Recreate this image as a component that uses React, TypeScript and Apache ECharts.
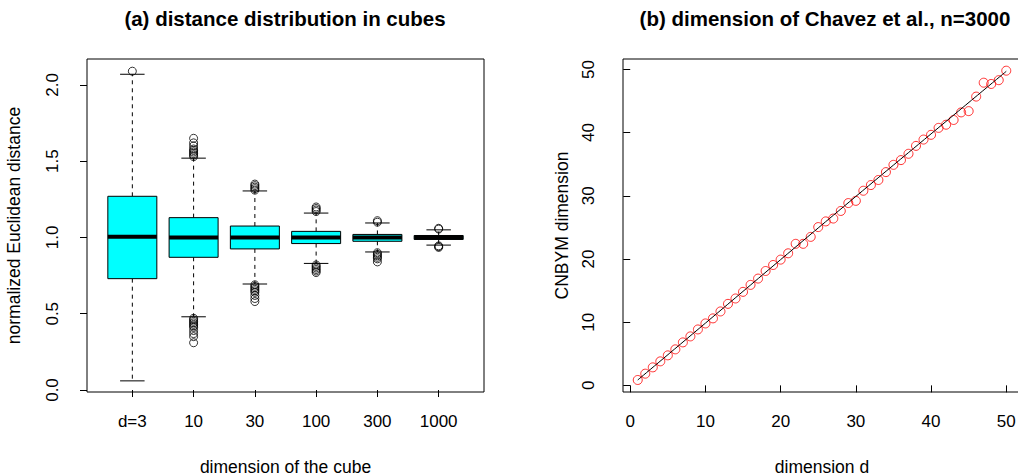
import React, { useEffect, useRef } from "react";
import * as echarts from "echarts";

// ---- panel (a): distance distribution in cubes ----
const cubeLabels = ["d=3", "10", "30", "100", "300", "1000"];
const cubePositions = [1, 2, 3, 4, 5, 6];
const whiskerLow = [0.06, 0.48, 0.695, 0.83, 0.905, 0.95];
const quart1 = [0.73, 0.87, 0.925, 0.96, 0.975, 0.987];
const medians = [1.005, 1.0, 1.0, 1.0, 1.0, 1.0];
const quart3 = [1.27, 1.13, 1.075, 1.04, 1.02, 1.013];
const whiskerHigh = [2.07, 1.52, 1.305, 1.16, 1.095, 1.05];
const outliers = [
  [2.09],
  [1.53, 1.54, 1.55, 1.56, 1.57, 1.58, 1.6, 1.62, 1.65, 0.47, 0.46, 0.45, 0.44, 0.43, 0.42, 0.41, 0.39, 0.37, 0.35, 0.31],
  [1.31, 1.32, 1.33, 1.34, 1.35, 0.69, 0.68, 0.67, 0.66, 0.65, 0.64, 0.62, 0.6, 0.58],
  [1.17, 1.18, 1.19, 1.2, 0.82, 0.81, 0.8, 0.79, 0.78, 0.77],
  [1.1, 1.11, 0.9, 0.89, 0.88, 0.87, 0.86, 0.84],
  [1.055, 1.06, 0.945, 0.94, 0.935],
];
const yTicksA = [0, 0.5, 1, 1.5, 2];

// ---- panel (b): dimension of Chavez et al. ----
const dims = [
  1, 2, 3, 4, 5, 6, 7, 8, 9, 10, 11, 12, 13, 14, 15, 16, 17, 18, 19, 20, 21, 22, 23, 24, 25,
  26, 27, 28, 29, 30, 31, 32, 33, 34, 35, 36, 37, 38, 39, 40, 41, 42, 43, 44, 45, 46, 47, 48, 49, 50,
];
const cnbymDim = [
  0.85, 1.85, 2.85, 3.8, 4.75, 5.7, 6.8, 7.75, 8.85, 9.8, 10.6, 11.7, 12.9, 13.75, 14.8, 15.9, 16.9,
  18.1, 19.05, 19.9, 20.9, 22.4, 22.4, 23.5, 25.05, 25.95, 26.4, 27.6, 28.85, 29.2, 30.8, 31.7, 32.5,
  33.75, 34.9, 35.65, 36.65, 37.9, 38.9, 39.65, 40.75, 41.25, 42.0, 43.2, 43.4, 45.7, 47.9, 47.7, 48.3, 49.8,
];
const fitD = [1, 10, 20, 30, 40, 50];
const fitY = [0.85, 9.85, 19.9, 29.9, 39.8, 49.7];
const ticksB = [0, 10, 20, 30, 40, 50];

const FONT = "Liberation Sans, Arial, Helvetica, sans-serif";

export default function App() {
  const ref = useRef<HTMLDivElement>(null);
  useEffect(() => {
    document.body.style.margin = "0";
    const chart = echarts.init(ref.current!, null, { renderer: "svg" });

    const boxData = cubePositions.map((p, i) => [p, whiskerLow[i], quart1[i], medians[i], quart3[i], whiskerHigh[i]]);
    const outData: number[][] = [];
    outliers.forEach((arr, i) => arr.forEach((v) => outData.push([cubePositions[i], v])));

    const axisCommon = {
      axisLine: { show: false },
      splitLine: { show: false },
      axisTick: { show: true, length: 7, lineStyle: { color: "#000", width: 1 } },
    };
    const labelStyle = { color: "#000", fontSize: 17, fontFamily: FONT };
    const nameStyle = { color: "#000", fontSize: 17.5, fontFamily: FONT };

    const option: any = {
      animation: false,
      backgroundColor: "#fff",
      textStyle: { fontFamily: FONT },
      grid: [
        { left: 87, top: 59, width: 397, height: 333, show: true, borderColor: "#000", borderWidth: 1, backgroundColor: "transparent", containLabel: false, outerBoundsMode: "none" },
        { left: 623, top: 59, width: 398, height: 333, show: true, borderColor: "#000", borderWidth: 1, backgroundColor: "transparent", containLabel: false, outerBoundsMode: "none" },
      ],
      xAxis: [
        {
          type: "value", gridIndex: 0, min: 0.26, max: 6.74, ...axisCommon,
          axisTick: { ...axisCommon.axisTick, customValues: cubePositions },
          axisLabel: { ...labelStyle, margin: 21, customValues: cubePositions, formatter: (v: number) => cubeLabels[Math.round(v) - 1] },
          name: "dimension of the cube", nameLocation: "middle", nameGap: 66, nameTextStyle: nameStyle,
        },
        {
          type: "value", gridIndex: 1, min: -0.96, max: 51.96, ...axisCommon,
          axisTick: { ...axisCommon.axisTick, customValues: ticksB },
          axisLabel: { ...labelStyle, margin: 21, customValues: ticksB, formatter: (v: number) => String(v) },
          name: "dimension d", nameLocation: "middle", nameGap: 66, nameTextStyle: nameStyle,
        },
      ],
      yAxis: [
        {
          type: "value", gridIndex: 0, min: -0.013, max: 2.17, ...axisCommon,
          axisTick: { ...axisCommon.axisTick, customValues: yTicksA },
          axisLabel: { ...labelStyle, margin: 26, rotate: 90, customValues: yTicksA, formatter: (v: number) => v.toFixed(1) },
          name: "normalized Euclidean distance", nameLocation: "middle", nameGap: 64, nameTextStyle: nameStyle,
        },
        {
          type: "value", gridIndex: 1, min: -1.05, max: 51.65, ...axisCommon,
          axisTick: { ...axisCommon.axisTick, customValues: ticksB },
          axisLabel: { ...labelStyle, margin: 26, rotate: 90, customValues: ticksB, formatter: (v: number) => String(v) },
          name: "CNBYM dimension", nameLocation: "middle", nameGap: 52, nameTextStyle: nameStyle,
        },
      ],
      graphic: [
        { type: "text", x: 285, y: 18, style: { text: "(a) distance distribution in cubes", fontSize: 20.5, fontWeight: "bold", fontFamily: FONT, fill: "#000", textAlign: "center", textVerticalAlign: "middle" } },
        { type: "text", x: 825, y: 18, style: { text: "(b) dimension of Chavez et al., n=3000", fontSize: 20.5, fontWeight: "bold", fontFamily: FONT, fill: "#000", textAlign: "center", textVerticalAlign: "middle" } },
      ],
      series: [
        {
          type: "custom", xAxisIndex: 0, yAxisIndex: 0, data: boxData, encode: { x: 0, y: [1, 2, 3, 4, 5] },
          renderItem: (params: any, api: any) => {
            const x = api.value(0);
            const lo = api.coord([x, api.value(1)]);
            const b1 = api.coord([x, api.value(2)]);
            const md = api.coord([x, api.value(3)]);
            const b3 = api.coord([x, api.value(4)]);
            const hi = api.coord([x, api.value(5)]);
            const half = api.size([0.4, 0])[0];
            const cap = half / 2;
            const cx = md[0];
            const dash = { stroke: "#000", lineWidth: 1, lineDash: [4, 4] };
            const solid = { stroke: "#000", lineWidth: 1 };
            return {
              type: "group",
              children: [
                { type: "line", shape: { x1: cx, y1: b3[1], x2: cx, y2: hi[1] }, style: dash },
                { type: "line", shape: { x1: cx, y1: b1[1], x2: cx, y2: lo[1] }, style: dash },
                { type: "line", shape: { x1: cx - cap, y1: hi[1], x2: cx + cap, y2: hi[1] }, style: solid },
                { type: "line", shape: { x1: cx - cap, y1: lo[1], x2: cx + cap, y2: lo[1] }, style: solid },
                { type: "rect", shape: { x: cx - half, y: b3[1], width: 2 * half, height: b1[1] - b3[1] }, style: { fill: "#00FFFF", stroke: "#000", lineWidth: 1 } },
                { type: "line", shape: { x1: cx - half, y1: md[1], x2: cx + half, y2: md[1] }, style: { stroke: "#000", lineWidth: 4 } },
              ],
            };
          },
        },
        {
          type: "scatter", xAxisIndex: 0, yAxisIndex: 0, data: outData, symbol: "circle", symbolSize: 8,
          itemStyle: { color: "transparent", borderColor: "#000", borderWidth: 1 },
        },
        {
          type: "line", xAxisIndex: 1, yAxisIndex: 1, data: fitD.map((d, i) => [d, fitY[i]]), showSymbol: false, symbol: "none",
          lineStyle: { color: "#000", width: 1 }, smooth: true,
        },
        {
          type: "scatter", xAxisIndex: 1, yAxisIndex: 1, data: dims.map((d, i) => [d, cnbymDim[i]]), symbol: "circle", symbolSize: 9,
          itemStyle: { color: "transparent", borderColor: "#ff0000", borderWidth: 1 },
        },
      ],
    };
    chart.setOption(option);
    return () => chart.dispose();
  }, []);
  return <div ref={ref} style={{ width: 1018, height: 476 }} />;
}
